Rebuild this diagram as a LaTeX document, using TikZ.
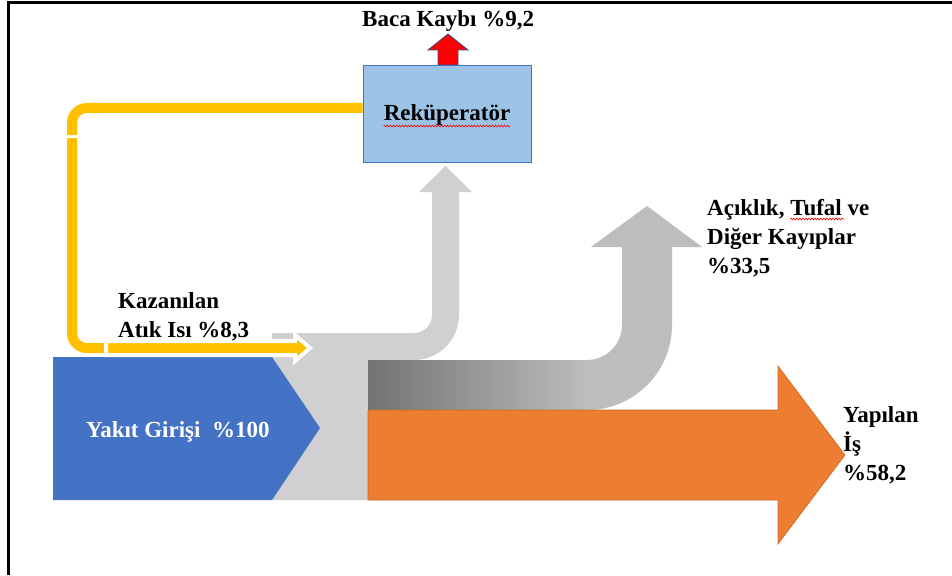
\documentclass[tikz,border=0pt]{standalone}
\usepackage{fontspec}
\setmainfont{Liberation Serif}
\usetikzlibrary{calc,decorations.pathmorphing}
\definecolor{inflow}{HTML}{4472C4}
\definecolor{workorange}{HTML}{ED7D31}
\definecolor{mixgray}{HTML}{D0CFD1}
\definecolor{lossgray}{HTML}{BDBDBD}
\definecolor{lossdark}{HTML}{737373}
\definecolor{rekfill}{HTML}{9DC3E6}
\definecolor{heatyellow}{HTML}{FFC000}
\definecolor{arrowblue}{HTML}{2F528F}
\begin{document}
\begin{tikzpicture}[x=1pt,y=-1pt,
  lbl/.style={font=\fontsize{23}{29}\selectfont\bfseries, inner sep=0pt, anchor=base west},
  spell/.style={draw=red, line width=0.6pt, decorate,
    decoration={snake, amplitude=0.9pt, segment length=3pt}},
  heat/.style={draw=heatyellow, line width=10pt, rounded corners=15pt},
]
\useasboundingbox (0,0) rectangle (952,575);
\fill[white] (0,0) rectangle (952,575);

% page frame
\draw[line width=3pt] (8,575) -- (8,3) -- (952,3);

% mixing zone and branch rising to the recuperator
\fill[mixgray] (272,333) -- (414,333) arc[start angle=90,end angle=0,radius=18]
  -- (432,192) -- (419,192) -- (445.5,166) -- (472,192) -- (459,192)
  -- (459,315) arc[start angle=0,end angle=90,radius=45]
  -- (368,360) -- (368,500) -- (272,500) -- cycle;

% losses branch (U-turn arrow)
\fill[lossgray] (368,360) -- (587,360) arc[start angle=90,end angle=0,radius=35]
  -- (622,247) -- (591,247) -- (647,206) -- (702,247) -- (672,247)
  -- (672,325) arc[start angle=0,end angle=90,radius=85]
  -- (368,410) -- cycle;
\shade[left color=lossdark, right color=lossgray] (368,360) rectangle (588,410);

% useful work arrow
\filldraw[fill=workorange, draw=workorange!85!black, line width=0.6pt]
  (368,410) -- (778,410) -- (778,366) -- (845,455) -- (778,544) -- (778,500)
  -- (368,500) -- cycle;

% fuel input
\fill[inflow] (53,357) -- (272,357) -- (320,428) -- (272,500) -- (53,500) -- cycle;
\node[lbl, text=white] (fuel) at (86,437) {Yakıt Girişi\ \ \%100};

% stack loss arrow and recuperator
\filldraw[fill=red, draw=arrowblue, line width=0.8pt]
  (438,65) -- (438,50) -- (428,50) -- (448,34) -- (468,50) -- (458,50) -- (458,65) -- cycle;
\node[draw=inflow, fill=rekfill, line width=0.9pt, minimum width=168pt,
  minimum height=97pt, inner sep=0pt] (rek) at (447,113.5) {};
\node[lbl, anchor=base] (rektxt) at (447,121) {Reküperatör};
\draw[spell] ($(rektxt.base west)+(0,5)$) -- ($(rektxt.base east)+(0,5)$);

% recovered heat loop
\draw[heat] ([yshift=5.5pt]rek.west) -| (72,135);
\draw[heat] (72,138) |- (105,348);
\coordinate (hstart) at (106,348);
\coordinate (htip) at (310,348);
\filldraw[fill=heatyellow, draw=white, line width=4pt, line join=miter]
  ($(hstart)+(0,-7)$) -- ($(htip)+(-15,-7)$) -- ($(htip)+(-15,-13)$) -- (htip)
  -- ($(htip)+(-15,13)$) -- ($(htip)+(-15,7)$) -- ($(hstart)+(0,7)$) -- cycle;

% labels
\node[lbl] (baca) at (362,27) {Baca Kaybı \%9,2};
\node[lbl] (gain1) at (118,308) {Kazanılan};
\node[lbl] (gain2) at (118,337) {Atık Isı \%8,3};
\node[lbl] (loss1) at (707,215) {Açıklık, Tufal ve};
\node[lbl] (loss2) at (707,244) {Diğer Kayıplar};
\node[lbl] (loss3) at (707,273) {\%33,5};
\draw[spell] ($(loss1.base west)+(83,4)$) -- ($(loss1.base west)+(137,4)$);
\node[lbl] (work1) at (843,422) {Yapılan};
\node[lbl] (work2) at (843,451) {İş};
\node[lbl] (work3) at (843,480) {\%58,2};
\end{tikzpicture}
\end{document}
